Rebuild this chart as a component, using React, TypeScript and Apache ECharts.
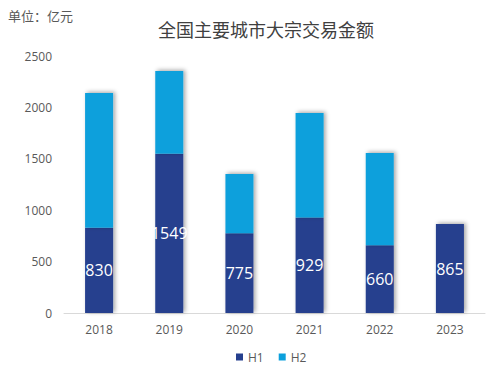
import React, { useEffect, useRef } from "react";
import * as echarts from "echarts";

const categories = ["2018", "2019", "2020", "2021", "2022", "2023"];
const h1Values = [830, 1549, 775, 929, 660, 865];
const h2Values: (number | null)[] = [1310, 805, 577, 1017, 896, null];
const yTicks = { min: 0, max: 2500, interval: 500 };

export default function App() {
  const ref = useRef<HTMLDivElement>(null);
  useEffect(() => {
    const chart = echarts.init(ref.current!, null, { renderer: "svg" });
    const shadow = {
      shadowColor: "rgba(0,0,0,0.35)",
      shadowBlur: 4,
      shadowOffsetX: 2,
      shadowOffsetY: -1,
    };
    chart.setOption({
      animation: false,
      backgroundColor: "#ffffff",
      title: {
        text: "全国主要城市大宗交易金额",
        left: 153,
        top: 15,
        textStyle: {
          fontFamily: "Noto Sans CJK SC",
          fontSize: 18,
          fontWeight: "normal",
          color: "#404040",
        },
      },
      graphic: [
        {
          type: "text",
          left: 8,
          top: 9,
          style: {
            text: "单位：亿元",
            fontFamily: "Noto Sans CJK SC",
            fontSize: 13,
            fill: "#595959",
          },
        },
      ],
      legend: {
        bottom: 9,
        left: 231,
        itemWidth: 7,
        itemHeight: 7,
        itemGap: 15,
        icon: "rect",
        textStyle: { color: "#595959", fontSize: 12, fontFamily: "Open Sans" },
        data: ["H1", "H2"],
      },
      grid: { left: 64, right: 15, top: 56, bottom: 64 },
      xAxis: {
        type: "category",
        data: categories,
        axisLine: { lineStyle: { color: "#d9d9d9" } },
        axisTick: { show: false },
        axisLabel: { color: "#595959", fontSize: 12, margin: 10, fontFamily: "Open Sans" },
      },
      yAxis: {
        type: "value",
        min: yTicks.min,
        max: yTicks.max,
        interval: yTicks.interval,
        splitLine: { show: false },
        axisLine: { show: false },
        axisTick: { show: false },
        axisLabel: {
          color: "#595959",
          fontSize: 12,
          margin: 12,
          fontFamily: "Open Sans",
          formatter: (v: number) => String(v),
        },
      },
      series: [
        {
          name: "H1",
          type: "bar",
          stack: "total",
          barWidth: 28,
          data: h1Values,
          itemStyle: { color: "#253f8e", ...shadow },
          label: {
            show: true,
            position: "inside",
            color: "#ffffff",
            fontSize: 16,
            fontFamily: "Open Sans",
          },
        },
        {
          name: "H2",
          type: "bar",
          stack: "total",
          barWidth: 28,
          data: h2Values,
          itemStyle: { color: "#0ca0dc", ...shadow },
        },
      ],
    });
    return () => chart.dispose();
  }, []);
  return <div ref={ref} style={{ width: 500, height: 377, position: "absolute", left: 0, top: 0 }} />;
}
